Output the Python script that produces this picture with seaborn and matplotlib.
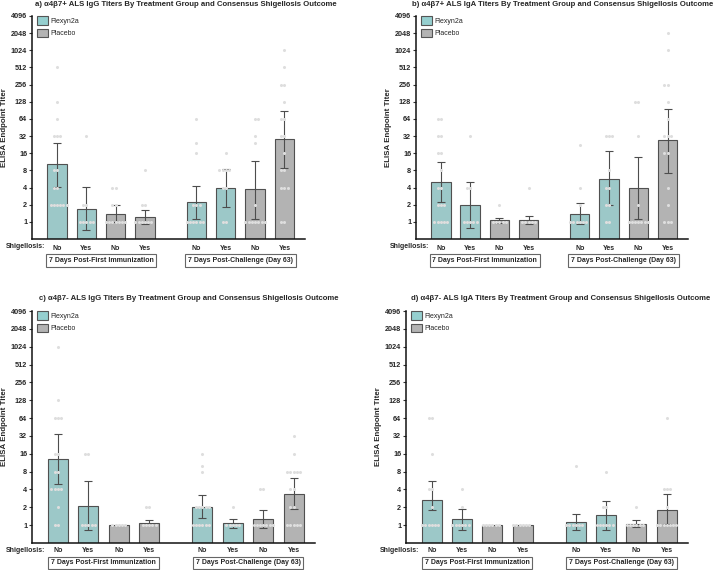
import matplotlib
matplotlib.use("Agg")
import matplotlib.pyplot as plt
import matplotlib.transforms as mtransforms
from matplotlib.patches import Patch
from matplotlib.ticker import NullLocator
import seaborn as sns
import pandas as pd

# ---- data ----
outcomes = ["No", "Yes", "No", "Yes", "No", "Yes", "No", "Yes"]
treatments = ["Flexyn2a", "Flexyn2a", "Placebo", "Placebo",
              "Flexyn2a", "Flexyn2a", "Placebo", "Placebo"]
timepoints = ["7 Days Post-First Immunization", "7 Days Post-Challenge (Day 63)"]
titer_ticks = [1, 2, 4, 8, 16, 32, 64, 128, 256, 512, 1024, 2048, 4096]

titles = [
    "a) α4β7+ ALS IgG Titers By Treatment Group and Consensus Shigellosis Outcome",
    "b) α4β7+ ALS IgA Titers By Treatment Group and Consensus Shigellosis Outcome",
    "c) α4β7- ALS IgG Titers By Treatment Group and Consensus Shigellosis Outcome",
    "d) α4β7- ALS IgA Titers By Treatment Group and Consensus Shigellosis Outcome",
]

# geometric mean titers, lower / upper 95% CI (None = no error bar)
a_gmt = [10.2, 1.71, 1.40, 1.24, 2.2, 4.0, 3.7, 28]
a_lo = [4.1, 0.72, 1.0, 0.92, 1.14, 1.85, 1.14, 8.9]
a_hi = [24.5, 4.1, 2.0, 1.64, 4.3, 8.6, 11.7, 89]
a_points = [
    [512, 128, 64, 32, 32, 32, 8, 8, 4, 4, 2, 2, 2, 2, 2, 2],
    [32, 2, 2, 1, 1, 1, 1, 1],
    [4, 4, 2, 2, 1, 1, 1, 1, 1, 1, 1],
    [8, 2, 2, 1, 1, 1, 1, 1, 1],
    [64, 24, 16, 2, 2, 2, 1, 1, 1, 1, 1, 1],
    [16, 8, 8, 8, 8, 4, 4, 1, 1],
    [64, 64, 32, 24, 2, 1, 1, 1, 1, 1, 1, 1],
    [1024, 512, 256, 256, 128, 64, 64, 32, 32, 16, 8, 8, 4, 4, 4, 1, 1],
]

b_gmt = [5.0, 1.96, 1.07, 1.07, 1.4, 5.7, 3.9, 26.9]
b_lo = [2.27, 0.78, 0.94, 0.9, 0.91, 1.95, 1.1, 7.3]
b_hi = [11.3, 5.0, 1.19, 1.29, 2.1, 17.7, 13.7, 97]
b_points = [
    [64, 64, 32, 32, 16, 16, 8, 4, 4, 2, 2, 2, 1, 1, 1, 1, 1],
    [32, 4, 4, 1, 1, 1, 1, 1],
    [2, 1, 1, 1, 1, 1],
    [4, 1, 1, 1, 1, 1],
    [22, 4, 2, 1, 1, 1, 1, 1, 1],
    [32, 32, 32, 8, 4, 4, 2, 2, 1, 1],
    [128, 128, 32, 2, 1, 1, 1, 1, 1, 1, 1],
    [2048, 1024, 256, 256, 128, 64, 32, 32, 32, 16, 16, 4, 2, 1, 1, 1],
]

c_gmt = [13.3, 2.1, 1.0, 1.08, 2.0, 1.07, 1.25, 3.37]
c_lo = [4.9, 0.82, None, 1.0, 1.3, 0.88, 0.88, 1.85]
c_hi = [35, 5.5, None, 1.2, 3.2, 1.27, 1.78, 6.2]
c_points = [
    [1024, 128, 64, 64, 64, 16, 16, 8, 8, 4, 4, 4, 4, 2, 1, 1],
    [16, 16, 1, 1, 1, 1, 1],
    [1, 1, 1, 1, 1],
    [2, 2, 1, 1, 1, 1, 1],
    [16, 10, 8, 2, 2, 2, 2, 2, 1, 1, 1, 1, 1, 1],
    [2, 1, 1, 1, 1, 1],
    [4, 4, 1, 1, 1, 1, 1, 1, 1],
    [32, 16, 8, 8, 8, 8, 8, 4, 4, 2, 2, 1, 1, 1, 1, 1],
]

d_gmt = [2.63, 1.25, 1.0, 1.0, 1.11, 1.48, 1.04, 1.8]
d_lo = [1.8, 0.84, None, None, 0.84, 0.84, 0.92, 1.05]
d_hi = [5.5, 1.85, None, None, 1.52, 2.56, 1.2, 3.33]
d_points = [
    [64, 64, 16, 4, 4, 2, 1, 1, 1, 1, 1, 1],
    [4, 2, 1, 1, 1, 1, 1, 1],
    [1, 1, 1, 1, 1, 1],
    [1, 1, 1, 1, 1, 1],
    [10, 1, 1, 1, 1, 1, 1],
    [8, 2, 2, 1, 1, 1, 1, 1, 1],
    [2, 1, 1, 1, 1, 1, 1],
    [64, 4, 4, 4, 2, 1, 1, 1, 1, 1, 1, 1],
]

panels = [
    (a_gmt, a_lo, a_hi, a_points),
    (b_gmt, b_lo, b_hi, b_points),
    (c_gmt, c_lo, c_hi, c_points),
    (d_gmt, d_lo, d_hi, d_points),
]

# ---- style ----
palette = {"Flexyn2a": "#95cfcf", "Placebo": "#b3b3b3"}
positions = [0, 1, 2, 3, 4.75, 5.75, 6.75, 7.75]
group_centers = [1.5, 6.25]

sns.set_style("ticks")
plt.rcParams["font.family"] = ["Liberation Sans", "DejaVu Sans"]

fig = plt.figure(figsize=(7.21, 5.70), dpi=100)
W, H = 721, 570
# axes rectangles in pixels: left, top, right, bottom
rects = [(32, 16, 305, 239), (416, 16, 688, 239),
         (32, 311, 315, 543), (406, 311, 688, 543)]
title_xy = [(186, 5), (563, 5), (189, 298), (561, 298)]
# offsets below the x axis (px): outcome row, time point box
below = [(8, 21.5), (8, 21.5), (7, 20), (7, 20)]

for i, (gmt, lo, hi, pts) in enumerate(panels):
    l, t, r, b = rects[i]
    ax = fig.add_axes([l / W, 1 - b / H, (r - l) / W, (b - t) / H])
    ax.set_yscale("log", base=2)

    bars = pd.DataFrame({"pos": positions, "gmt": gmt, "treatment": treatments})
    sns.barplot(data=bars, x="pos", y="gmt", hue="treatment", palette=palette,
                native_scale=True, dodge=False, width=0.66, errorbar=None,
                edgecolor="#505050", linewidth=0.8, legend=False, ax=ax, zorder=2)

    # error bars (asymmetric 95% CI)
    for x, g, lo_v, hi_v in zip(positions, gmt, lo, hi):
        if lo_v is None:
            continue
        ax.errorbar([x], [g], yerr=[[g - lo_v], [hi_v - g]], fmt="none",
                    ecolor="#4d4d4d", elinewidth=0.8, capsize=3.2,
                    capthick=0.8, zorder=3)

    rows = [(x, v) for x, vals in zip(positions, pts) for v in vals]
    pts_df = pd.DataFrame(rows, columns=["pos", "titer"])
    sns.swarmplot(data=pts_df, x="pos", y="titer", native_scale=True,
                  color="#dedede", size=2.2, linewidth=0, ax=ax, zorder=4)

    ax.set_ylim(0.5, 4096)
    ax.set_xlim(-0.85, 8.45)
    ax.set_yticks(titer_ticks)
    ax.set_yticklabels([str(v) for v in titer_ticks], fontweight="bold", fontsize=5.2)
    ax.yaxis.set_minor_locator(NullLocator())
    ax.set_xticks(positions)
    ax.set_xticklabels(outcomes, fontweight="bold", fontsize=5)
    ax.tick_params(axis="x", length=0, pad=below[i][0] - 4)
    ax.tick_params(axis="y", length=2.5, width=0.8, pad=1, color="#333333")
    ax.set_xlabel("")
    ax.set_ylabel("ELISA Endpoint Titer", fontweight="bold", fontsize=5.7)
    ax.yaxis.set_label_coords(-24 / (r - l), 0.5)
    sns.despine(ax=ax)
    for s in ["left", "bottom"]:
        ax.spines[s].set_linewidth(1.1)
        ax.spines[s].set_color("#111111")

    # outcome row label
    off = mtransforms.offset_copy(ax.transAxes, fig=fig, x=0, y=-below[i][0], units="dots")
    ax.text(0.047, 0, "Shigellosis:", transform=off, ha="right", va="center",
            fontsize=5, fontweight="bold")

    # time point boxes
    blend = mtransforms.blended_transform_factory(ax.transData, ax.transAxes)
    boff = mtransforms.offset_copy(blend, fig=fig, x=0, y=-below[i][1], units="dots")
    for cx, label in zip(group_centers, timepoints):
        ax.text(cx, 0, label, transform=boff, ha="center", va="center",
                fontsize=5, fontweight="bold",
                bbox=dict(boxstyle="square,pad=0.4", fc="white", ec="#666666", lw=0.8))

    handles = [Patch(facecolor=palette[k], edgecolor="#555555", linewidth=0.8, label=k)
               for k in ["Flexyn2a", "Placebo"]]
    ax.legend(handles=handles, loc="upper left", bbox_to_anchor=(0.0, 1.02),
              frameon=False, fontsize=5, handlelength=1.6, handleheight=1.5,
              handletextpad=0.4, labelspacing=0.55, borderaxespad=0.3)

    tx, ty = title_xy[i]
    fig.text(tx / W, 1 - ty / H, titles[i], ha="center", va="center",
             fontsize=5.6, fontweight="bold")

fig.savefig("out.png", dpi=100)
